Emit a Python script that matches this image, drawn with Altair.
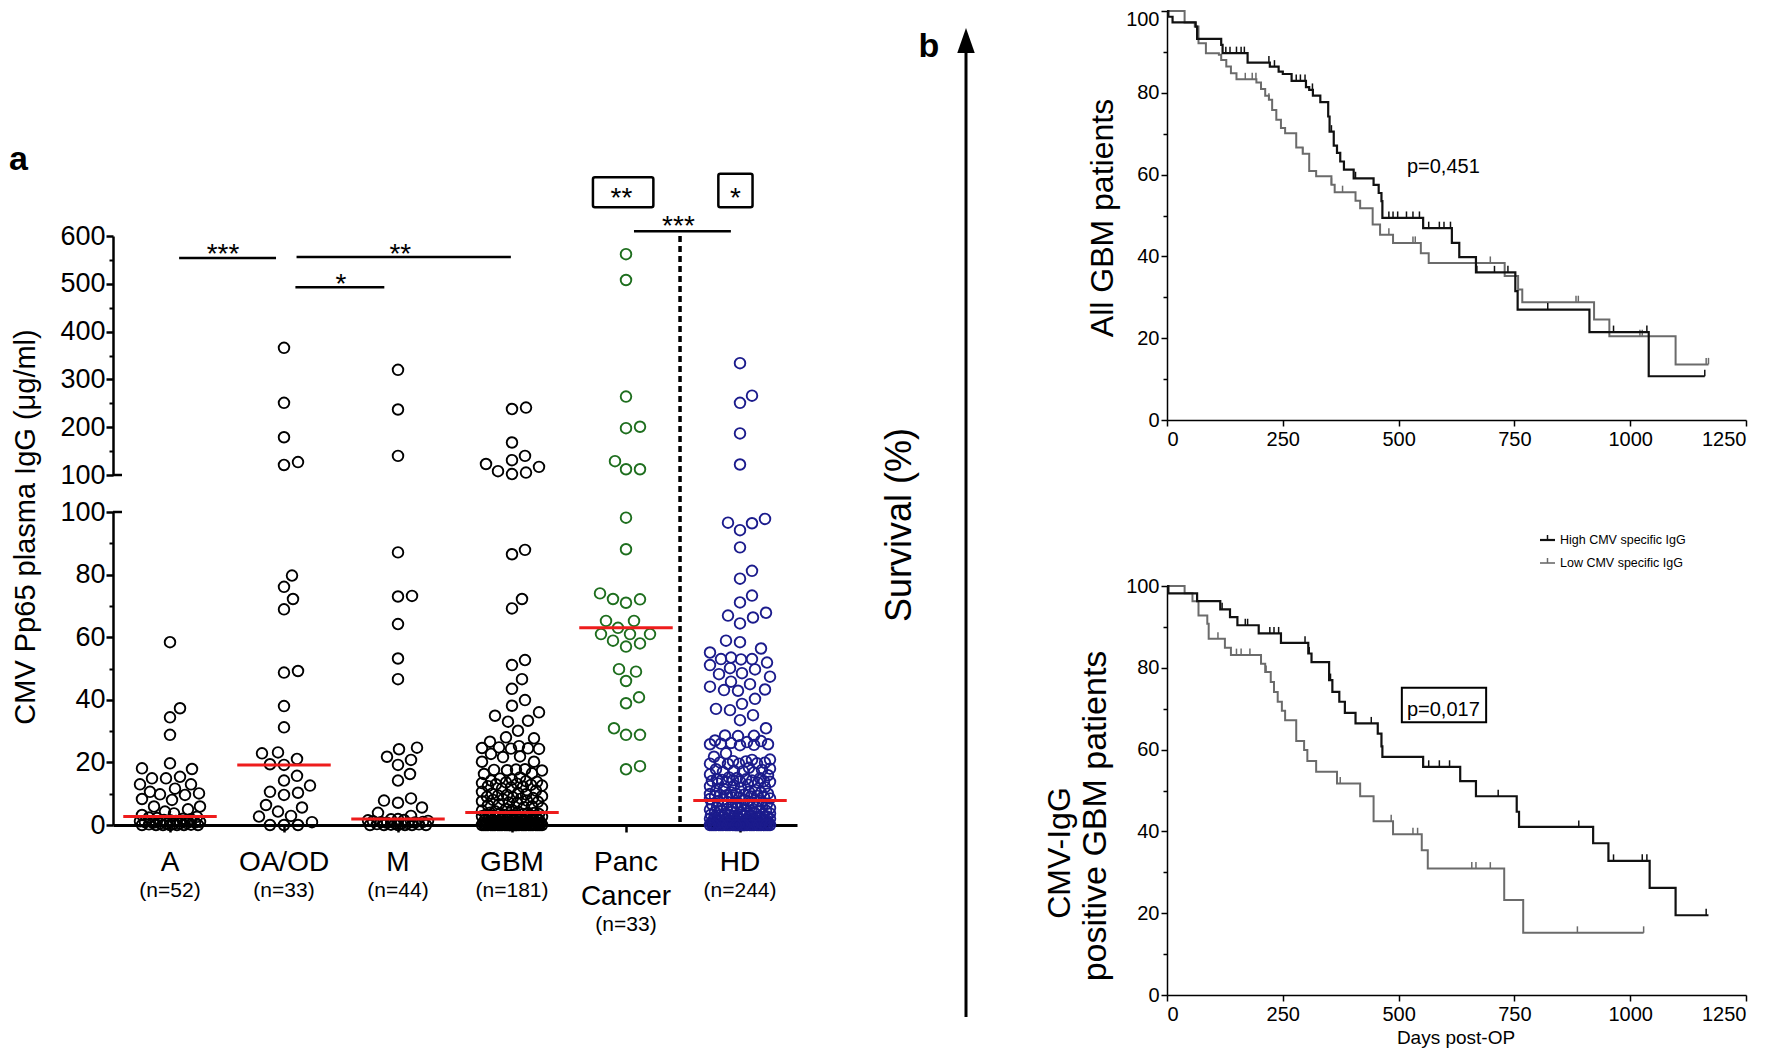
import math
import altair as alt
import pandas as pd

# ======================= DATA: panel a =======================
groups = ["A", "OA/OD", "M", "GBM", "Panc Cancer", "HD"]
group_n = [52, 33, 44, 181, 33, 244]
medians = [2.7, 19.2, 1.9, 4.0, 63.0, 7.8]

vals_A = [58.4, 37.3, 34.4, 28.8, 19.7, 18.1, 17.9, 15.4, 14.9, 14.9,
          13.0, 13.0, 11.6, 10.6, 10.1, 9.8, 9.6, 8.3, 8.0, 5.9,
          5.9, 5.0, 4.3, 3.7, 3.2,
          2.6, 2.4, 2.2, 2.0, 1.8, 1.6, 1.5, 1.3, 1.2, 1.0,
          0.9, 0.8, 0.7, 0.6, 0.5, 0.5, 0.4, 0.3, 0.2, 0.1,
          0.0, 0.0, 0.0, 0.0, 0.0, 0.0, 0.0]

vals_OAOD = [366, 251, 179, 127, 121,
             79.7, 76.1, 72.2, 68.9, 49.2, 48.7, 38.0, 31.2, 23.2, 22.9,
             21.1, 19.4, 19.2, 15.7, 14.2, 12.6, 10.6, 10.3, 9.6, 6.4,
             5.6, 4.3, 2.9, 2.7, 0.9, 0.0, 0.0, 0.0]

vals_M = [320, 237, 140,
          87.1, 73.2, 73.0, 64.2, 53.2, 46.6, 24.7, 24.2, 21.8, 20.8,
          19.2, 16.3, 14.2, 8.5, 7.8, 7.1, 5.6, 3.9, 2.9,
          1.9, 1.8, 1.6, 1.5, 1.3, 1.2, 1.0, 0.9, 0.8, 0.7,
          0.6, 0.5, 0.4, 0.3, 0.2, 0.1, 0.0, 0.0, 0.0, 0.0,
          0.0, 0.0]

vals_GBM = [241, 238, 168, 140, 131, 123, 117, 108, 105, 102,
            87.9, 86.5, 72.2, 69.2, 52.7, 51.1, 46.6, 43.5, 39.9, 38.1,
            36.0, 34.9, 33.3, 33.0, 30.1, 28.0, 27.7, 26.6, 25.2, 24.8,
            24.6, 24.5, 24.4, 24.3, 22.7, 21.9, 21.7, 20.2, 20.2, 17.8,
            17.7, 17.6, 17.5, 17.4, 16.5, 16.3, 15.2, 14.8, 14.5, 14.2,
            14.0, 13.8, 13.6, 13.4, 13.2, 13.0, 12.8, 12.6, 12.4, 12.2,
            12.0, 11.6, 11.0, 10.6, 10.2, 10.0, 9.8, 9.6, 9.4, 9.2,
            9.0, 8.8, 8.6, 8.4, 8.2, 8.0, 7.8, 7.6, 7.4, 7.2,
            7.0, 6.6, 6.3, 6.0, 5.7, 5.4, 5.1, 4.8, 4.6, 4.4,
            4.2,
            3.9, 3.8, 3.8, 3.6, 3.5, 3.5, 3.3, 3.2, 3.1, 3.0,
            2.9, 2.9, 2.8, 2.6, 2.5, 2.5, 2.4, 2.2, 2.1, 2.0,
            2.0, 1.9, 1.8, 1.7, 1.6, 1.6, 1.5, 1.4, 1.3, 1.2,
            1.2, 1.1, 1.0, 1.0, 0.9, 0.8, 0.8, 0.7, 0.7, 0.6,
            0.6, 0.5, 0.5, 0.4, 0.4, 0.4, 0.3, 0.3, 0.3, 0.2,
            0.2, 0.2, 0.2, 0.1, 0.1, 0.1, 0.1, 0.1, 0.0, 0.0,
            0.0, 0.0, 0.0, 0.0, 0.0, 0.0, 0.0, 0.0, 0.0, 0.0,
            0.0, 0.0, 0.0, 0.0, 0.0, 0.0, 0.0, 0.0, 0.0, 0.0,
            0.0, 0.0, 0.0, 0.0, 0.0, 0.0, 0.0, 0.0, 0.0, 0.0]

vals_Panc = [562, 508, 264, 201, 198, 129, 112, 112,
             98.2, 88.1, 74.0, 72.2, 72.1, 71.0, 65.2, 65.2, 63.0, 61.0,
             61.0, 61.0, 58.9, 58.0, 57.0, 49.8, 49.0, 46.0, 40.8, 38.9,
             30.9, 28.8, 28.8, 18.8, 17.8]

vals_HD = [334, 266, 251, 187, 122,
           97.8, 96.6, 96.4, 94.2, 88.7, 81.2, 78.7, 73.3, 71.1, 67.8,
           66.9, 66.3, 64.4, 58.9, 58.4, 56.4, 55.1, 53.5, 53.0, 53.0,
           52.9, 51.9, 51.1, 50.1, 49.7, 48.5, 48.2, 47.4, 45.8, 45.0,
           44.2, 43.3, 43.1, 42.9, 40.3, 38.7, 37.1, 36.7, 35.1, 33.5,
           30.9, 28.6, 28.5, 28.4, 27.0, 26.8, 26.5, 26.2, 26.0, 25.8,
           25.8, 25.6, 25.5, 22.9, 21.8, 20.9, 20.8, 20.4, 20.3, 20.0,
           19.9, 19.7, 19.6, 19.6, 19.5, 18.3, 18.0, 17.8, 17.6, 17.3,
           17.2, 17.0, 16.8, 16.2, 15.9, 15.2, 15.0, 14.9, 14.7, 14.6,
           14.4, 14.3, 14.2, 14.1, 14.0, 13.9, 13.8, 13.7, 13.5, 13.3,
           12.9, 12.6, 12.4, 12.1, 11.8, 11.5, 11.2, 10.9, 10.6, 10.4,
           10.3, 10.1, 10.0, 9.9, 9.7, 9.6, 9.5, 9.3, 9.2, 9.1,
           8.9, 8.8, 8.7, 8.5, 8.3, 8.1, 8.0,
           7.7, 7.5, 7.3, 7.1, 7.0, 6.8, 6.6, 6.5, 6.3, 6.2,
           6.0, 5.9, 5.7, 5.6, 5.4, 5.3, 5.1, 5.0, 4.9, 4.7,
           4.6, 4.5, 4.3, 4.2, 4.1, 3.9, 3.8, 3.7, 3.6, 3.5,
           3.4, 3.3, 3.2, 3.1, 3.0, 2.9, 2.8, 2.7, 2.7, 2.6,
           2.5, 2.4, 2.4, 2.3, 2.2, 2.1, 2.0, 2.0, 1.9, 1.8,
           1.8, 1.7, 1.6, 1.6, 1.5, 1.4, 1.4, 1.3, 1.2, 1.2,
           1.1, 1.0, 1.0, 0.9, 0.9, 0.8, 0.8, 0.7, 0.7, 0.6,
           0.6, 0.5, 0.5, 0.5, 0.4, 0.4, 0.4, 0.3, 0.3, 0.3,
           0.2, 0.2, 0.2, 0.2, 0.1, 0.1, 0.1, 0.1, 0.1, 0.0,
           0.0, 0.0, 0.0, 0.0, 0.0, 0.0, 0.0, 0.0, 0.0, 0.0,
           0.0, 0.0, 0.0, 0.0, 0.0, 0.0, 0.0, 0.0, 0.0, 0.0,
           0.0, 0.0, 0.0, 0.0, 0.0, 0.0, 0.0, 0.0, 0.0, 0.0,
           0.0, 0.0]

# significance annotations (x in group units, y in upper-axis units)
sig_bar_x1 = [0.08, 1.11, 1.10, 4.07]
sig_bar_x2 = [0.93, 2.99, 1.88, 4.92]
sig_bar_y = [554, 556, 493, 610]
sig_txt = ["***", "**", "*", "***", "**", "*"]
sig_txt_x = [0.465, 2.02, 1.50, 4.46, 3.96, 4.96]
sig_txt_y = [544, 544, 481, 602, 660, 660]
sig_box_x1 = [3.71, 4.81]
sig_box_x2 = [4.24, 5.11]
sig_box_y1 = [660, 660]
sig_box_y2 = [723, 730]
divider_x = 4.474

# ======================= DATA: panel b =======================
all_high_t = [0, 3, 12, 62, 65, 117, 120, 174, 222, 241, 250, 269, 300, 307, 315,
              331, 348, 351, 360, 367, 374, 382, 403, 446, 457, 463, 465, 553, 615, 631,
              667, 752, 757, 912, 1040, 1161]
all_high_s = [100, 98.6, 97.2, 96.2, 93.2, 91.7, 89.7, 87.4, 86.4, 85.2, 84.6, 82.9, 81.4, 80.7, 79.3,
              77.7, 74.2, 70.5, 67.1, 65.3, 63.2, 61.2, 59.1, 57.5, 55.5, 53.5, 49.4, 46.9, 43.3, 39.8,
              36.1, 31.5, 27.0, 21.5, 10.7, 10.7]
all_low_t = [0, 38, 60, 68, 84, 112, 117, 128, 138, 150, 193, 203, 212, 220, 227,
             236, 246, 255, 279, 293, 307, 322, 355, 362, 407, 417, 444, 460, 488, 548,
             565, 729, 758, 767, 922, 955, 1098, 1169]
all_low_s = [100, 97.2, 96.2, 92.1, 89.7, 89.3, 88.0, 86.4, 84.8, 83.3, 82.5, 80.9, 79.3, 78.3, 75.8,
             73.4, 71.4, 70.1, 66.6, 65.1, 60.9, 59.6, 57.5, 55.7, 53.6, 51.8, 47.8, 45.3, 43.3, 40.8,
             38.4, 35.2, 31.9, 28.8, 24.6, 20.5, 13.6, 13.6]
pos_high_t = [0, 3, 65, 115, 136, 152, 198, 246, 305, 312, 350, 357, 372, 384, 407,
              455, 463, 465, 553, 633, 667, 755, 760, 920, 953, 1042, 1098, 1169]
pos_high_s = [100, 98.2, 96.3, 94.3, 92.4, 90.4, 88.4, 86.1, 83.5, 81.4, 77.0, 74.1, 71.7, 69.0, 66.4,
              63.9, 60.8, 58.2, 55.8, 52.3, 48.6, 44.8, 41.1, 37.1, 32.8, 26.2, 19.5, 19.5]
pos_low_t = [0, 38, 55, 68, 87, 90, 125, 138, 203, 212, 224, 231, 239, 248, 255,
             279, 296, 303, 322, 367, 417, 446, 488, 550, 563, 728, 769, 1029]
pos_low_s = [100, 98.2, 96.3, 92.8, 90.8, 87.1, 84.9, 83.1, 81.0, 79.0, 76.5, 74.1, 71.7, 69.5, 67.2,
             62.1, 59.9, 57.2, 54.6, 51.7, 48.6, 42.5, 39.3, 35.4, 30.9, 23.2, 15.2, 15.2]

all_high_cens = [127, 136, 150, 160, 167, 220, 232, 279, 288, 298, 314, 355, 407, 479, 488,
                 498, 517, 531, 545, 565, 588, 598, 612, 669, 707, 736, 822, 964, 1036, 1161]
all_low_cens = [169, 184, 192, 203, 220, 293, 355, 379, 479, 531, 536, 698, 883, 888, 1021,
                1026, 1164, 1169]
pos_high_cens = [119, 136, 169, 174, 222, 231, 241, 298, 307, 353, 441, 553, 565, 588, 610,
                 715, 889, 964, 1026, 1036, 1164]
pos_low_cens = [110, 150, 160, 179, 214, 374, 484, 531, 541, 658, 667, 698, 886, 1029]

p_all_text, p_all_x, p_all_y = "p=0,451", 518, 61.9
p_pos_text, p_pos_x, p_pos_y = "p=0,017", 518, 69.6
p_pos_box = [507, 689, 66.7, 75.1]
legend_labels = ["High CMV specific IgG", "Low CMV specific IgG"]

# ======================= LAYOUT / STYLE =======================
W, H = 1756, 1040
FONT = "Liberation Sans, Arial, Helvetica, sans-serif"
group_colors = ["#000000", "#000000", "#000000", "#000000", "#1e6e1e", "#1b1b8c"]
RED = "#ee1c1c"
HIGH_C, LOW_C = "#111111", "#6b6b6b"

A_X0, A_X1 = 105, 789
BAND = (A_X1 - A_X0) / 6.0
UP_Y100, UP_Y600 = 467, 228
LO_Y0, LO_Y100 = 817, 504
K_X0, K_X1 = 1159, 1738
KT_Y0, KT_Y100 = 412, 3
KB_Y0, KB_Y100 = 987, 578


def y_px(v):
    if v > 100:
        return UP_Y100 - (v - 100) * (UP_Y100 - UP_Y600) / 500.0
    return LO_Y0 - v * (LO_Y0 - LO_Y100) / 100.0


def swarm(values, d=13.5, half=30.0):
    """Deterministic beeswarm offsets (pixels) for one column."""
    order = sorted(range(len(values)), key=lambda i: values[i])
    cands = [0.0]
    for k in range(1, int(half) + 1):
        cands.extend([float(k), float(-k)])
    placed, offs = [], [0.0] * len(values)
    for i in order:
        py = y_px(values[i])
        near = [(px, qy) for px, qy in placed if abs(qy - py) < d]
        best, best_d = 0.0, -1.0
        for c in cands:
            md = min((math.hypot(c - px, py - qy) for px, qy in near), default=1e9)
            if md >= d:
                best = c
                break
            if md > best_d:
                best_d, best = md, c
        offs[i] = best
        placed.append((best, py))
    return offs


all_vals = [vals_A, vals_OAOD, vals_M, vals_GBM, vals_Panc, vals_HD]
rows = []
for gi, (g, vals) in enumerate(zip(groups, all_vals)):
    offs = swarm(vals)
    for v, o in zip(vals, offs):
        rows.append({"grp": g, "v": v, "xpos": gi + o / BAND, "part": "up" if v > 100 else "lo"})
pts = pd.DataFrame(rows)


def ax(**kw):
    base = dict(grid=False, title="", domainColor="black", tickColor="black",
                labelColor="black", labelFont=FONT)
    base.update(kw)
    return alt.Axis(**base)


xa = alt.Scale(domain=[-0.5, 5.5], range=[A_X0, A_X1], nice=False, zero=False)
ya_up = alt.Scale(domain=[100, 600], range=[UP_Y100, UP_Y600], nice=False, zero=False)
ya_lo = alt.Scale(domain=[0, 100], range=[LO_Y0, LO_Y100], nice=False, zero=False)
xk = alt.Scale(domain=[0, 1250], range=[K_X0, K_X1], nice=False, zero=False)
yk_top = alt.Scale(domain=[0, 100], range=[KT_Y0, KT_Y100], nice=False, zero=False)
yk_bot = alt.Scale(domain=[0, 100], range=[KB_Y0, KB_Y100], nice=False, zero=False)
col = alt.Color("grp:N", scale=alt.Scale(domain=groups, range=group_colors), legend=None)
pt_mark = dict(shape="circle", filled=False, size=112, strokeWidth=1.9, opacity=1)

layers = []

# ---- panel a: points & axes ----
layers.append(alt.Chart(pts[pts.part == "up"]).mark_point(**pt_mark).encode(
    x=alt.X("xpos:Q", scale=xa, axis=None),
    y=alt.Y("v:Q", scale=ya_up, axis=ax(orient="left", offset=-A_X0, values=list(range(100, 601, 100)),
                                          tickSize=7, tickWidth=2.5, domainWidth=2.5,
                                          labelFontSize=27, labelPadding=1)),
    color=col))
layers.append(alt.Chart(pd.DataFrame({"v": [100]})).mark_point(opacity=0).encode(
    x=alt.value(0),
    y=alt.Y("v:Q", scale=ya_up, axis=ax(orient="left", offset=-A_X0, values=[150, 250, 350, 450, 550],
                                          tickSize=4, tickWidth=2, labels=False, domain=False))))
layers.append(alt.Chart(pts[pts.part == "lo"]).mark_point(**pt_mark).encode(
    x=alt.X("xpos:Q", scale=xa, axis=ax(orient="bottom", offset=LO_Y0 - H, values=list(range(6)),
                                          labels=False, tickSize=7, tickWidth=2.5, domainWidth=3)),
    y=alt.Y("v:Q", scale=ya_lo, axis=ax(orient="left", offset=-A_X0, values=list(range(0, 101, 20)),
                                          tickSize=7, tickWidth=2.5, domainWidth=2.5,
                                          labelFontSize=27, labelPadding=1)),
    color=col))
layers.append(alt.Chart(pd.DataFrame({"v": [0]})).mark_point(opacity=0).encode(
    x=alt.value(0),
    y=alt.Y("v:Q", scale=ya_lo, axis=ax(orient="left", offset=-A_X0, values=[10, 30, 50, 70, 90],
                                          tickSize=4, tickWidth=2, labels=False, domain=False))))
# axis-break marks at both "100" ticks
layers.append(alt.Chart(pd.DataFrame({"v": [100]})).mark_rule(color="black", strokeWidth=2.5).encode(
    x=alt.value(A_X0), x2=alt.value(A_X0 + 9), y=alt.Y("v:Q", scale=ya_up, axis=None)))
layers.append(alt.Chart(pd.DataFrame({"v": [100]})).mark_rule(color="black", strokeWidth=2.5).encode(
    x=alt.value(A_X0), x2=alt.value(A_X0 + 9), y=alt.Y("v:Q", scale=ya_lo, axis=None)))

# medians
med_df = pd.DataFrame({"m": medians, "lo": [i - 0.41 for i in range(6)], "hi": [i + 0.41 for i in range(6)]})
layers.append(alt.Chart(med_df).mark_rule(color=RED, strokeWidth=3).encode(
    x=alt.X("lo:Q", scale=xa, axis=None), x2="hi:Q", y=alt.Y("m:Q", scale=ya_lo, axis=None)))

# significance bars, boxes, stars
bars_df = pd.DataFrame({"x1": sig_bar_x1, "x2": sig_bar_x2, "y": sig_bar_y})
layers.append(alt.Chart(bars_df).mark_rule(color="black", strokeWidth=2.5).encode(
    x=alt.X("x1:Q", scale=xa, axis=None), x2="x2:Q", y=alt.Y("y:Q", scale=ya_up, axis=None)))
box_df = pd.DataFrame({"x1": sig_box_x1, "x2": sig_box_x2, "y1": sig_box_y1, "y2": sig_box_y2})
layers.append(alt.Chart(box_df).mark_rect(fillOpacity=0, stroke="black", strokeWidth=2.5, cornerRadius=2).encode(
    x=alt.X("x1:Q", scale=xa, axis=None), x2="x2:Q",
    y=alt.Y("y1:Q", scale=ya_up, axis=None), y2="y2:Q"))
star_df = pd.DataFrame({"x": sig_txt_x, "y": sig_txt_y, "t": sig_txt})
layers.append(alt.Chart(star_df).mark_text(font=FONT, fontSize=28, color="black", baseline="alphabetic").encode(
    x=alt.X("x:Q", scale=xa, axis=None), y=alt.Y("y:Q", scale=ya_up, axis=None), text="t:N"))
layers.append(alt.Chart(pd.DataFrame({"x": [divider_x]})).mark_rule(
    color="black", strokeWidth=3.5, strokeDash=[6, 4]).encode(
    x=alt.X("x:Q", scale=xa, axis=None), y=alt.value(UP_Y600), y2=alt.value(LO_Y0)))

# category labels
NAME_Y, NAME_LH, N_DY = 855, 34, 28
lab_rows = []
for gi, (g, n) in enumerate(zip(groups, group_n)):
    parts = g.split(" ")
    for li, p in enumerate(parts):
        lab_rows.append({"x": gi, "t": p, "y": NAME_Y + li * NAME_LH, "kind": "name"})
    lab_rows.append({"x": gi, "t": f"(n={n})", "y": NAME_Y + (len(parts) - 1) * NAME_LH + N_DY, "kind": "n"})
lab_df = pd.DataFrame(lab_rows)
layers.append(alt.Chart(lab_df[lab_df.kind == "name"]).mark_text(font=FONT, fontSize=28, color="black").encode(
    x=alt.X("x:Q", scale=xa, axis=None), y=alt.Y("y:Q", scale=None), text="t:N"))
layers.append(alt.Chart(lab_df[lab_df.kind == "n"]).mark_text(font=FONT, fontSize=21, color="black").encode(
    x=alt.X("x:Q", scale=xa, axis=None), y=alt.Y("y:Q", scale=None), text="t:N"))


def ptext(text, x, y, size, angle=0, align="center", baseline="alphabetic", weight="normal"):
    return alt.Chart(pd.DataFrame({"t": [text]})).mark_text(
        font=FONT, fontSize=size, angle=angle, align=align, baseline=baseline,
        fontWeight=weight, color="black").encode(x=alt.value(x), y=alt.value(y), text="t:N")


layers.append(ptext("CMV Pp65 plasma IgG (μg/ml)", 27, 519, 29, angle=270))
layers.append(ptext("a", 1, 162, 34, align="left", weight="bold"))

# ---- panel b ----
def step_at(t, s, x):
    v = s[0]
    for ti, si in zip(t, s):
        if ti <= x:
            v = si
    return v


def km_layers(t, s, cens, yscale, color, width, x_axis, y_axis):
    out = [alt.Chart(pd.DataFrame({"t": t, "s": s})).mark_line(
        interpolate="step-after", color=color, strokeWidth=width).encode(
        x=alt.X("t:Q", scale=xk, axis=x_axis), y=alt.Y("s:Q", scale=yscale, axis=y_axis))]
    cdf = pd.DataFrame({"t": cens, "s": [step_at(t, s, c) for c in cens]})
    out.append(alt.Chart(cdf).mark_point(shape="M0,0L0,-1", filled=False, size=169, strokeWidth=1.5,
                                         color=color, opacity=1).encode(
        x=alt.X("t:Q", scale=xk, axis=None), y=alt.Y("s:Q", scale=yscale, axis=None)))
    return out


def k_yaxis():
    return ax(orient="left", offset=-K_X0, values=list(range(0, 101, 20)), tickSize=6, tickWidth=1.5,
              domainWidth=1.5, labelFontSize=20, labelPadding=2,
              labelExpr="datum.value == 100 ? '' : datum.label")


def k_xaxis(y0):
    return ax(orient="bottom", offset=y0 - H, values=list(range(0, 1251, 250)), tickSize=6, tickWidth=1.5,
              domainWidth=1.5, labelFontSize=20, labelPadding=3, format="d")


for yscale, y0 in [(yk_top, KT_Y0), (yk_bot, KB_Y0)]:
    layers.append(alt.Chart(pd.DataFrame({"v": [0]})).mark_point(opacity=0).encode(
        x=alt.value(0),
        y=alt.Y("v:Q", scale=yscale, axis=ax(orient="left", offset=-K_X0, values=[10, 30, 50, 70, 90],
                                               tickSize=4, tickWidth=1.5, labels=False, domain=False))))

# "100" labels of the survival axes (top one kept inside the page)
layers.append(alt.Chart(pd.DataFrame({"v": [100]})).mark_point(opacity=0).encode(
    x=alt.value(0),
    y=alt.Y("v:Q", scale=yk_top, axis=ax(orient="left", offset=-K_X0, values=[100], ticks=False,
                                           domain=False, labelFontSize=20, labelPadding=8,
                                           labelBaseline="top", labelOffset=-2))))
layers.append(alt.Chart(pd.DataFrame({"v": [100]})).mark_point(opacity=0).encode(
    x=alt.value(0),
    y=alt.Y("v:Q", scale=yk_bot, axis=ax(orient="left", offset=-K_X0, values=[100], ticks=False,
                                           domain=False, labelFontSize=20, labelPadding=8))))

layers += km_layers(all_low_t, all_low_s, all_low_cens, yk_top, LOW_C, 2.0, None, None)
layers += km_layers(all_high_t, all_high_s, all_high_cens, yk_top, HIGH_C, 2.2, k_xaxis(KT_Y0), k_yaxis())
layers += km_layers(pos_low_t, pos_low_s, pos_low_cens, yk_bot, LOW_C, 2.0, None, None)
layers += km_layers(pos_high_t, pos_high_s, pos_high_cens, yk_bot, HIGH_C, 2.2, k_xaxis(KB_Y0), k_yaxis())

layers.append(alt.Chart(pd.DataFrame({"x": [p_all_x], "y": [p_all_y], "t": [p_all_text]})).mark_text(
    font=FONT, fontSize=20, align="left", color="black").encode(
    x=alt.X("x:Q", scale=xk, axis=None), y=alt.Y("y:Q", scale=yk_top, axis=None), text="t:N"))
layers.append(alt.Chart(pd.DataFrame({"x": [p_pos_x], "y": [p_pos_y], "t": [p_pos_text]})).mark_text(
    font=FONT, fontSize=20, align="left", color="black").encode(
    x=alt.X("x:Q", scale=xk, axis=None), y=alt.Y("y:Q", scale=yk_bot, axis=None), text="t:N"))
layers.append(alt.Chart(pd.DataFrame({"x1": [p_pos_box[0]], "x2": [p_pos_box[1]],
                                      "y1": [p_pos_box[2]], "y2": [p_pos_box[3]]})).mark_rect(
    fillOpacity=0, stroke="black", strokeWidth=2).encode(
    x=alt.X("x1:Q", scale=xk, axis=None), x2="x2:Q", y=alt.Y("y1:Q", scale=yk_bot, axis=None), y2="y2:Q"))

layers.append(ptext("All GBM patients", 1105, 210, 32, angle=270))
layers.append(ptext("CMV-IgG", 1062, 845, 32, angle=270))
layers.append(ptext("positive GBM patients", 1098, 808, 34, angle=270))
layers.append(ptext("Days post-OP", 1448, 1036, 19))

# legend
LEG_X0, LEG_X1, LEG_TX = 1532, 1547, 1552
for lab, ly, c, w in [(legend_labels[0], 532, HIGH_C, 2.2), (legend_labels[1], 555, LOW_C, 1.6)]:
    one = pd.DataFrame({"t": [lab]})
    layers.append(alt.Chart(one).mark_rule(color=c, strokeWidth=w).encode(
        x=alt.value(LEG_X0), x2=alt.value(LEG_X1), y=alt.value(ly)))
    layers.append(alt.Chart(one).mark_rule(color=c, strokeWidth=1.5).encode(
        x=alt.value((LEG_X0 + LEG_X1) / 2), y=alt.value(ly - 5), y2=alt.value(ly)))
    layers.append(alt.Chart(one).mark_text(font=FONT, fontSize=12.5, align="left", baseline="middle",
                                           color="black").encode(
        x=alt.value(LEG_TX), y=alt.value(ly), text="t:N"))

# survival arrow
layers.append(ptext("Survival (%)", 903, 517, 36, angle=270))
layers.append(ptext("b", 921, 49, 34, weight="bold"))
layers.append(alt.Chart(pd.DataFrame({"a": [0]})).mark_rule(color="black", strokeWidth=3).encode(
    x=alt.value(958), y=alt.value(40), y2=alt.value(1009)))
layers.append(alt.Chart(pd.DataFrame({"a": [0]})).mark_point(
    shape="M-0.7,1L0,-1L0.7,1Z", filled=True, color="black", size=625, opacity=1).encode(
    x=alt.value(958), y=alt.value(32.5)))

chart = alt.layer(*layers).resolve_scale(
    x="independent", y="independent", color="independent"
).properties(
    width=W, height=H, padding=0, autosize=alt.AutoSizeParams(type="none")
).configure_view(strokeWidth=0)

chart.save("out.html", embed_options={"renderer": "svg", "actions": False})
